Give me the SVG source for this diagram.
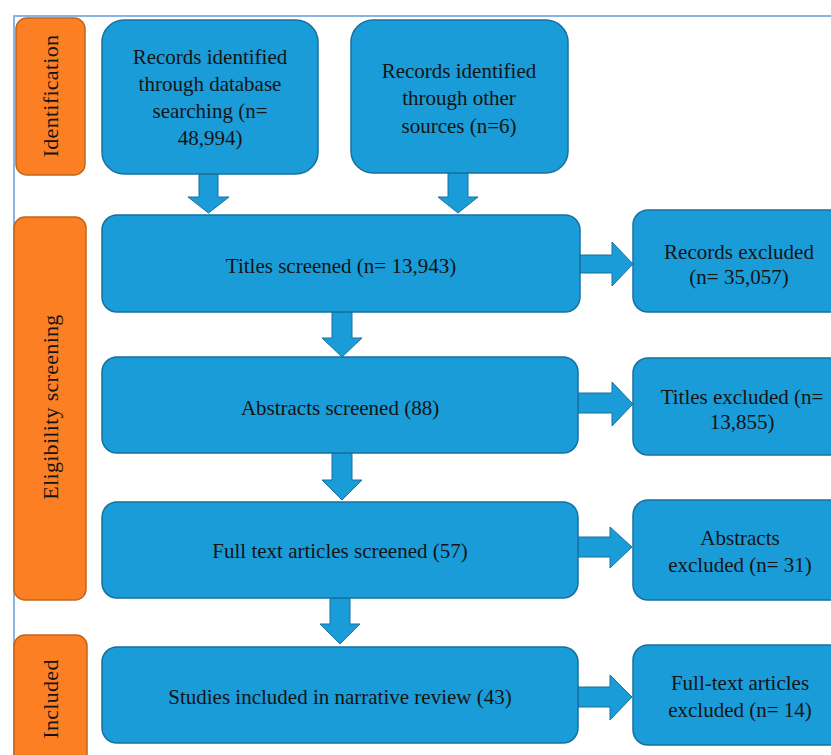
<svg xmlns="http://www.w3.org/2000/svg" width="831" height="755" viewBox="0 0 831 755">
<style>
.bg{fill:#ffffff}
.frame{fill:none;stroke:#8db3e2;stroke-width:2}
.stage{fill:#fd7f23;stroke:#c0651c;stroke-width:1.5}
.box{fill:#1a9cd8;stroke:#17709f;stroke-width:1.5}
.arr{fill:#1a9cd8;stroke:#17709f;stroke-width:1}
text{font-family:"Liberation Serif","Times New Roman",serif;fill:#141414;text-anchor:middle;dominant-baseline:central}
.t{font-size:21px}
.s{font-size:22px;letter-spacing:0.3px}
</style>
<rect class="bg" x="0" y="0" width="831" height="755"/>
<path class="frame" d="M14,755 V16 H831"/>

<g id="stage-identification">
<rect class="stage" x="16" y="18" width="69" height="157" rx="11"/>
<text class="s" transform="translate(50,96) rotate(-90)">Identification</text>
</g>
<g id="stage-eligibility">
<rect class="stage" x="14" y="217" width="72" height="383" rx="11"/>
<text class="s" transform="translate(50,407) rotate(-90)">Eligibility screening</text>
</g>
<g id="stage-included">
<rect class="stage" x="14" y="635" width="73" height="140" rx="11"/>
<text class="s" transform="translate(50,699) rotate(-90)">Included</text>
</g>

<g id="connectors">
<path class="arr" d="M199,174 H218 V197 H229 L208.5,213 L188,197 H199 Z"/>
<path class="arr" d="M448,173 H468 V197 H478 L458,213 L438,197 H448 Z"/>
<path class="arr" d="M332,312 H352 V338 H362 L342,357 L322,338 H332 Z"/>
<path class="arr" d="M332,453 H352 V480 H362 L342,500 L322,480 H332 Z"/>
<path class="arr" d="M330,598 H350 V624 H360 L340,644 L320,624 H330 Z"/>
<path class="arr" d="M580,255 H612 V242 L633,264 L612,286 V273 H580 Z"/>
<path class="arr" d="M578,393 H612 V382 L633,404 L612,426 V413 H578 Z"/>
<path class="arr" d="M578,537 H610 V527 L632,547 L610,568 V557 H578 Z"/>
<path class="arr" d="M578,687 H610 V675 L632,697 L610,720 V707 H578 Z"/>
</g>

<g id="n-database">
<rect class="box" x="102" y="20" width="216" height="154" rx="22"/>
<text class="t" x="210" y="57">Records identified</text>
<text class="t" x="210" y="84">through database</text>
<text class="t" x="210" y="111">searching (n=</text>
<text class="t" x="210" y="138">48,994)</text>
</g>
<g id="n-other">
<rect class="box" x="351" y="20" width="217" height="153" rx="22"/>
<text class="t" x="459" y="71">Records identified</text>
<text class="t" x="459" y="98">through other</text>
<text class="t" x="459" y="126">sources (n=6)</text>
</g>
<g id="n-titles">
<rect class="box" x="102" y="215" width="478" height="97" rx="15"/>
<text class="t" x="341" y="266">Titles screened (n= 13,943)</text>
</g>
<g id="n-abstracts">
<rect class="box" x="102" y="357" width="476" height="96" rx="15"/>
<text class="t" x="340" y="408">Abstracts screened (88)</text>
</g>
<g id="n-fulltext">
<rect class="box" x="102" y="502" width="476" height="96" rx="15"/>
<text class="t" x="340" y="551">Full text articles screened (57)</text>
</g>
<g id="n-studies">
<rect class="box" x="102" y="647" width="476" height="96" rx="15"/>
<text class="t" x="340" y="697">Studies included in narrative review (43)</text>
</g>
<g id="n-records-excluded">
<rect class="box" x="633" y="210" width="230" height="102" rx="15"/>
<text class="t" x="739" y="252">Records excluded</text>
<text class="t" x="739" y="277">(n= 35,057)</text>
</g>
<g id="n-titles-excluded">
<rect class="box" x="633" y="358" width="230" height="97" rx="15"/>
<text class="t" x="742" y="397">Titles excluded (n=</text>
<text class="t" x="742" y="422">13,855)</text>
</g>
<g id="n-abstracts-excluded">
<rect class="box" x="633" y="500" width="230" height="100" rx="15"/>
<text class="t" x="740" y="538">Abstracts</text>
<text class="t" x="740" y="565">excluded (n= 31)</text>
</g>
<g id="n-fulltext-excluded">
<rect class="box" x="633" y="645" width="230" height="100" rx="15"/>
<text class="t" x="740" y="683">Full-text articles</text>
<text class="t" x="740" y="710">excluded (n= 14)</text>
</g>
</svg>
